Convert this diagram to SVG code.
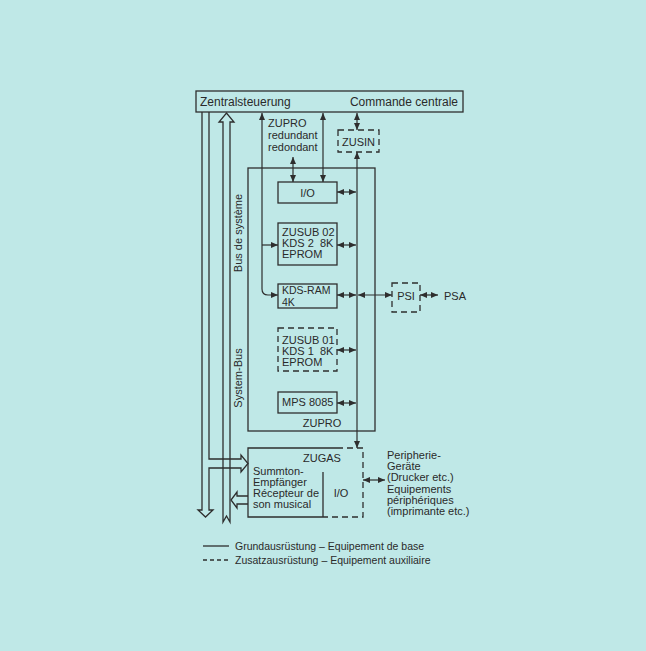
<svg xmlns="http://www.w3.org/2000/svg" width="646" height="651" viewBox="0 0 646 651">
<defs>
<marker id="ah" viewBox="0 0 7 6" refX="7" refY="3" markerWidth="7" markerHeight="6" markerUnits="userSpaceOnUse" orient="auto-start-reverse">
<path d="M0,0 L7,3 L0,6 z" fill="#2e2e2e"/>
</marker>
<style>
.b{fill:none;stroke:#2e2e2e;stroke-width:1.3}
.d{fill:none;stroke:#2e2e2e;stroke-width:1.3;stroke-dasharray:6 4}
.c{fill:none;stroke:#2e2e2e;stroke-width:1.2;marker-start:url(#ah);marker-end:url(#ah)}
.e{fill:none;stroke:#2e2e2e;stroke-width:1.2;marker-end:url(#ah)}
text{font-family:"Liberation Sans",Arial,sans-serif;font-size:11px;fill:#2a2a2a}
.t{font-size:12px}
.m{text-anchor:middle}
</style>
</defs>
<rect width="646" height="651" fill="#bfe8e7"/>

<g id="zentralsteuerung">
<rect class="b" x="196" y="91" width="267" height="21"/>
<text class="t" x="200" y="106">Zentralsteuerung</text>
<text class="t" x="458" y="106" text-anchor="end">Commande centrale</text>
</g>

<g id="system-bus">
<path class="b" d="M202,112 V510 H198 L205.5,517 L213,510 H209 V468 H241 V472 L248,463.5 L241,455 V459 H209 V112"/>
<path class="b" d="M223,122 H219 L226.5,113 L234,122 H230 V522 L226.5,516 L223,522 Z"/>
<path class="b" d="M248,496 H237 V492 L231,500 L237,508 V504 H248"/>
<text x="242" y="233" class="m" transform="rotate(-90 242 233)">Bus de système</text>
<text x="242" y="378" class="m" transform="rotate(-90 242 378)">System-Bus</text>
</g>

<g id="zupro-redundant">
<text x="268" y="127">ZUPRO</text>
<text x="268" y="139">redundant</text>
<text x="268" y="151">redondant</text>
</g>

<g id="zusin">
<rect class="d" x="338" y="130" width="41" height="22"/>
<text x="358.5" y="145.5" class="m">ZUSIN</text>
</g>

<g id="zupro">
<rect class="b" x="248" y="168" width="127" height="263"/>
<text x="322" y="427" class="m">ZUPRO</text>
</g>

<g id="io">
<rect class="b" x="278" y="182" width="59" height="21"/>
<text x="307.5" y="197" class="m">I/O</text>
</g>

<g id="zusub02">
<rect class="b" x="278" y="223" width="59" height="42"/>
<text x="282" y="236">ZUSUB 02</text>
<text x="282" y="247" style="white-space:pre">KDS 2  8K</text>
<text x="282" y="258">EPROM</text>
</g>

<g id="kdsram">
<rect class="b" x="278" y="284" width="59" height="24"/>
<text x="282" y="294" style="font-size:10.5px">KDS-RAM</text>
<text x="282" y="305.5" style="font-size:10.5px">4K</text>
</g>

<g id="zusub01">
<rect class="d" x="278" y="328" width="59" height="43"/>
<text x="282" y="344">ZUSUB 01</text>
<text x="282" y="355" style="white-space:pre">KDS 1  8K</text>
<text x="282" y="366">EPROM</text>
</g>

<g id="mps8085">
<rect class="b" x="278" y="392" width="59" height="21"/>
<text x="282" y="406">MPS 8085</text>
</g>

<g id="psi">
<rect class="d" x="392" y="283" width="28" height="29"/>
<text x="406" y="300" class="m">PSI</text>
</g>

<g id="psa">
<text x="444" y="300">PSA</text>
</g>

<g id="zugas">
<path class="b" d="M337,448 H248 V517 H323 M323,472 V517"/>
<path class="d" d="M337,448 H363 V517 H323"/>
<text x="322" y="462" class="m">ZUGAS</text>
<text x="253" y="475">Summton-</text>
<text x="253" y="486">Empfänger</text>
<text x="253" y="497">Récepteur de</text>
<text x="253" y="508">son musical</text>
<text x="341" y="497" class="m">I/O</text>
</g>

<g id="peripherie">
<text x="387" y="459">Peripherie-</text>
<text x="387" y="470">Geräte</text>
<text x="387" y="481">(Drucker etc.)</text>
<text x="387" y="493">Equipements</text>
<text x="387" y="504">périphériques</text>
<text x="387" y="515">(imprimante etc.)</text>
</g>

<g id="connectors">
<path class="c" d="M262,113 V289 Q262,295 268,295 H278"/>
<path class="e" d="M262,245 H278"/>
<path class="c" d="M293,157 V182"/>
<path class="c" d="M323,113 V182"/>
<path class="c" d="M357,113 V130"/>
<path class="c" d="M357,152 V448"/>
<path class="c" d="M337,192 H356"/>
<path class="c" d="M337,245 H356"/>
<path class="c" d="M337,295 H356"/>
<path class="c" d="M358,295 H392"/>
<path class="c" d="M337,350 H356"/>
<path class="c" d="M337,403 H356"/>
<path class="c" d="M420,295 H438"/>
<path class="c" d="M363,480 H385"/>
</g>

<g id="legend">
<path class="b" d="M203,546 H229"/>
<text x="235" y="550" style="font-size:10.5px">Grundausrüstung – Equipement de base</text>
<path class="b" d="M203,560 H229" style="stroke-dasharray:4 3"/>
<text x="235" y="564" style="font-size:10.5px">Zusatzausrüstung – Equipement auxiliaire</text>
</g>
</svg>
